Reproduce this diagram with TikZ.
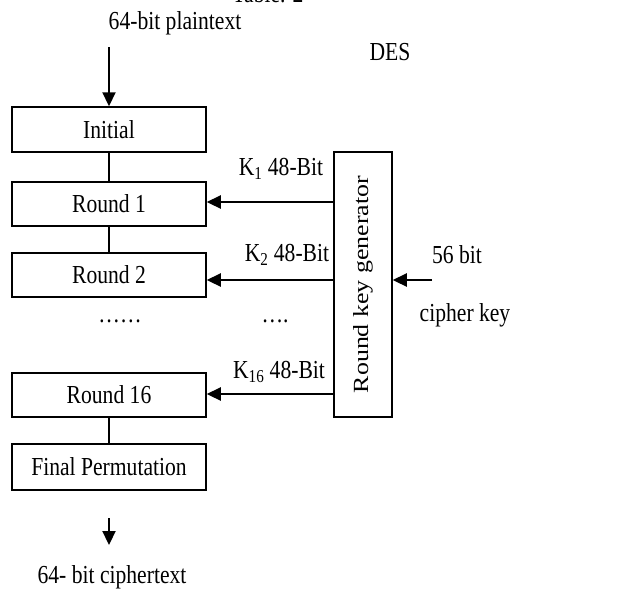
\documentclass[tikz,border=0pt]{standalone}
\usepackage{fontspec}
\setmainfont{Liberation Serif}
\usetikzlibrary{arrows.meta}
\newcommand{\vt}[1]{\scalebox{1}[1.2]{#1}}
\begin{document}
\begin{tikzpicture}[x=1pt,y=-1pt,
  txt/.style={inner sep=0pt,font=\fontsize{21.6}{24}\selectfont},
  blk/.style={draw,line width=1.5pt,minimum width=194pt,inner sep=0pt,font=\fontsize{21.6}{24}\selectfont},
  arr/.style={line width=2.2pt,-{Triangle[length=14pt,width=13pt]}},
  link/.style={line width=1.1pt}]
\useasboundingbox (0,0) rectangle (640,590);
\node[txt] (tab) at (268,-6) {\vt{Table. 2}};
\node[txt] (pt) at (175,23) {\vt{64-bit plaintext}};
\node[txt] (des) at (390,52) {\vt{DES}};
\node[blk,minimum height=45pt] (init) at (109,129.5) {\vt{Initial}};
\node[blk,minimum height=44pt] (r1) at (109,204) {\vt{Round 1}};
\node[blk,minimum height=44pt] (r2) at (109,275) {\vt{Round 2}};
\node[blk,minimum height=44pt] (r16) at (109,395) {\vt{Round 16}};
\node[blk,minimum height=46pt] (fin) at (109,467) {\vt{Final Permutation}};
\node[draw,line width=1.5pt,minimum width=58pt,minimum height=265pt,inner sep=0pt,font=\fontsize{21.6}{24}\selectfont] (kg) at (363,284.5) {\rotatebox{90}{\scalebox{1.2}[1]{Round key generator}}};
\node[txt] (d1) at (120,321) {\vt{……}};
\node[txt] (d2) at (275,321) {\vt{….}};
\node[txt] (k1) at (281,169) {\vt{K\textsubscript{1} 48-Bit}};
\node[txt] (k2) at (287,255) {\vt{K\textsubscript{2} 48-Bit}};
\node[txt] (k16) at (279,372) {\vt{K\textsubscript{16} 48-Bit}};
\node[txt] (sb) at (457,255) {\vt{56 bit}};
\node[txt] (ckt) at (465,315) {\vt{cipher key}};
\node[txt] (ct) at (112,577) {\vt{64- bit ciphertext}};
\coordinate (pin) at (109,47);
\coordinate (o1) at (109,518);
\coordinate (o2) at (109,545);
\coordinate (ck) at (432,280);
\draw[arr] (pin) -- (init.north);
\draw[link] (init.south) -- (r1.north);
\draw[link] (r1.south) -- (r2.north);
\draw[link] (r16.south) -- (fin.north);
\draw[arr] (kg.west |- 0,202) -- (r1.east |- 0,202);
\draw[arr] (kg.west |- 0,280) -- (r2.east |- 0,280);
\draw[arr] (kg.west |- 0,394) -- (r16.east |- 0,394);
\draw[arr] (ck) -- (kg.east |- ck);
\draw[arr] (o1) -- (o2);
\end{tikzpicture}
\end{document}
